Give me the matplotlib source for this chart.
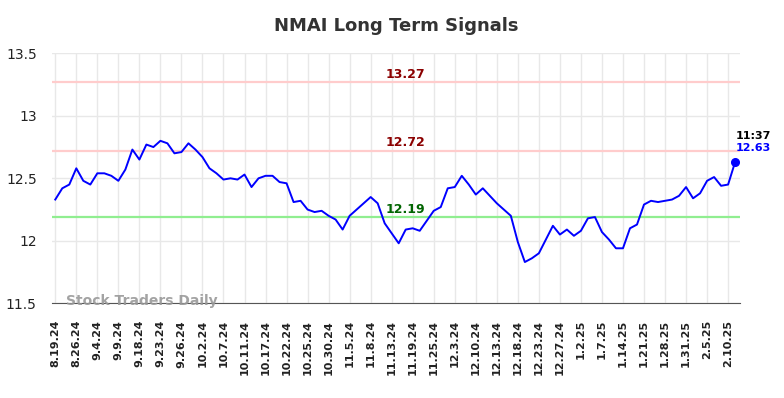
import matplotlib.pyplot as plt
import numpy as np

# daily closes, one per trading day shown
prices = [12.33, 12.42, 12.45, 12.58, 12.48, 12.45, 12.54, 12.54, 12.52, 12.48,
          12.57, 12.73, 12.65, 12.77, 12.75, 12.80, 12.78, 12.70, 12.71, 12.78,
          12.73, 12.67, 12.58, 12.54, 12.49, 12.50, 12.49, 12.53, 12.43, 12.50,
          12.52, 12.52, 12.47, 12.46, 12.31, 12.32, 12.25, 12.23, 12.24, 12.20,
          12.17, 12.09, 12.20, 12.25, 12.30, 12.35, 12.30, 12.14, 12.06, 11.98,
          12.09, 12.10, 12.08, 12.16, 12.24, 12.27, 12.42, 12.43, 12.52, 12.45,
          12.37, 12.42, 12.36, 12.30, 12.25, 12.20, 11.99, 11.83, 11.86, 11.90,
          12.01, 12.12, 12.05, 12.09, 12.04, 12.08, 12.18, 12.19, 12.07, 12.01,
          11.94, 11.94, 12.10, 12.13, 12.29, 12.32, 12.31, 12.32, 12.33, 12.36,
          12.43, 12.34, 12.38, 12.48, 12.51, 12.44, 12.45, 12.63]

tick_labels = ["8.19.24", "8.26.24", "9.4.24", "9.9.24", "9.18.24", "9.23.24",
               "9.26.24", "10.2.24", "10.7.24", "10.11.24", "10.17.24", "10.22.24",
               "10.25.24", "10.30.24", "11.5.24", "11.8.24", "11.13.24", "11.19.24",
               "11.25.24", "12.3.24", "12.10.24", "12.13.24", "12.18.24", "12.23.24",
               "12.27.24", "1.2.25", "1.7.25", "1.14.25", "1.21.25", "1.28.25",
               "1.31.25", "2.5.25", "2.10.25"]

upper = 13.27
middle = 12.72
lower = 12.19
last_time = "11:37"

x = np.arange(len(prices))

fig = plt.figure(figsize=(7.84, 3.98), dpi=100)
ax = fig.add_axes([0.0663, 0.238, 0.8776, 0.628])

ax.axhline(upper, color='#ffcccc', linewidth=1.6, zorder=1)
ax.axhline(middle, color='#ffcccc', linewidth=1.6, zorder=1)
ax.axhline(lower, color='#90ee90', linewidth=1.6, zorder=1)

ax.plot(x, prices, color='blue', linewidth=1.4, zorder=3)
ax.plot(x[-1], prices[-1], 'o', color='blue', markersize=5.5, zorder=4)

mid = 50
ax.text(mid, upper + 0.012, f"{upper:.2f}", color='#8b0000', fontsize=9,
        fontweight='bold', ha='center', va='bottom')
ax.text(mid, middle + 0.012, f"{middle:.2f}", color='#8b0000', fontsize=9,
        fontweight='bold', ha='center', va='bottom')
ax.text(mid, lower + 0.012, f"{lower:.2f}", color='#006400', fontsize=9,
        fontweight='bold', ha='center', va='bottom')

ax.text(x[-1] + 0.1, prices[-1] + 0.17, last_time, color='black', fontsize=8,
        fontweight='bold', ha='left', va='bottom')
ax.text(x[-1] + 0.1, prices[-1] + 0.075, f"{prices[-1]:.2f}", color='blue',
        fontsize=8, fontweight='bold', ha='left', va='bottom')

ax.text(1.6, 11.515, "Stock Traders Daily", color='#999999', fontsize=10,
        fontweight='bold', ha='left', va='center', alpha=0.9)

ax.set_xlim(-0.47, 97.7)
ax.set_ylim(11.5, 13.5)
ax.set_yticks([11.5, 12, 12.5, 13, 13.5])
ax.set_yticklabels(["11.5", "12", "12.5", "13", "13.5"])
ax.set_xticks(x[::3])
ax.set_xticklabels(tick_labels, rotation=90, fontweight='bold', fontsize=8)
ax.tick_params(axis='both', length=0, colors='#222222')
ax.tick_params(axis='x', pad=12)
ax.tick_params(axis='y', labelsize=10, pad=11)

ax.grid(color='#e8e8e8', linewidth=1)
ax.set_axisbelow(True)
for s in ['top', 'right', 'left']:
    ax.spines[s].set_visible(False)
ax.spines['bottom'].set_color('#555555')

ax.set_title("NMAI Long Term Signals", fontsize=13, fontweight='bold',
             color='#333333', pad=16)

fig.savefig("out.png", dpi=100)
